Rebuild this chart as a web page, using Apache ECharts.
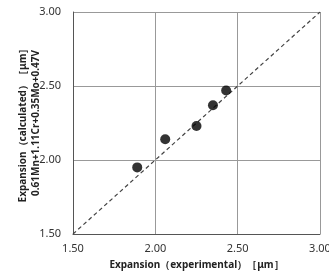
<!DOCTYPE html>
<html><head><meta charset="utf-8">
<script src="https://cdn.jsdelivr.net/npm/echarts@6/dist/echarts.min.js"></script>
<style>html,body{margin:0;padding:0;background:#fff}#c{width:329px;height:273px}</style>
</head><body><div id="c"></div>
<script>
const xExperimental = [1.89, 2.06, 2.25, 2.35, 2.43];
const yCalculated = [1.95, 2.14, 2.23, 2.37, 2.47];
const refLineX = [1.5, 3.0];
const refLineY = [1.5, 3.0];
const xTitle = 'Expansion（experimental）［μm］';
const yTitle = 'Expansion（calculated）［μm］\n0.61Mn+1.11Cr+0.35Mo+0.47V';

const chart = echarts.init(document.getElementById('c'));
const font = 'Noto Sans';
chart.setOption({
  animation: false,
  grid: {left: 73, right: 9, top: 12, bottom: 39, containLabel: false, outerBoundsMode: 'none'},
  xAxis: {
    type: 'value', min: 1.5, max: 3.0, interval: 0.5,
    name: xTitle, nameLocation: 'middle', nameGap: 26, nameMoveOverlap: false,
    nameTextStyle: {fontFamily: font, fontSize: 10, fontWeight: 'bold', color: '#222'},
    axisLine: {show: true, lineStyle: {color: '#555', width: 1}},
    axisTick: {show: false},
    axisLabel: {fontFamily: font, fontSize: 11, color: '#333', formatter: v => v.toFixed(2), margin: 9},
    splitLine: {show: true, lineStyle: {color: '#999', width: 1}}
  },
  yAxis: {
    type: 'value', min: 1.5, max: 3.0, interval: 0.5,
    name: yTitle, nameLocation: 'middle', nameGap: 30, nameMoveOverlap: false,
    nameTextStyle: {fontFamily: font, fontSize: 10, fontWeight: 'bold', color: '#222', lineHeight: 13},
    axisLine: {show: true, lineStyle: {color: '#555', width: 1}},
    axisTick: {show: false},
    axisLabel: {fontFamily: font, fontSize: 11, color: '#333', formatter: v => v.toFixed(2), margin: 12},
    splitLine: {show: true, lineStyle: {color: '#999', width: 1}}
  },
  series: [
    {
      type: 'line', data: refLineX.map((x, i) => [x, refLineY[i]]),
      showSymbol: false, symbol: 'none',
      lineStyle: {color: '#444', width: 1.2, type: [4, 3]}, z: 1
    },
    {
      type: 'scatter', data: xExperimental.map((x, i) => [x, yCalculated[i]]),
      symbolSize: 10, itemStyle: {color: '#000'}, z: 3
    }
  ]
});
</script></body></html>
